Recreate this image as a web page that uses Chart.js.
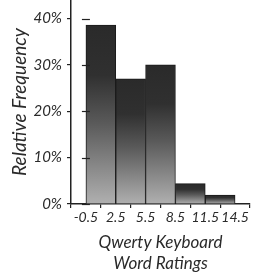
<!DOCTYPE html>
<html>
<head>
<meta charset="utf-8">
<script src="https://cdn.jsdelivr.net/npm/chart.js@4"></script>
<style>
  html, body { margin: 0; padding: 0; background: #fff; }
</style>
</head>
<body>
<canvas id="chart" width="263" height="274"></canvas>
<script>
// histogram bins (edges) and relative frequencies in %
const binEdges = [-0.5, 2.5, 5.5, 8.5, 11.5, 14.5];
const frequencies = [38.6, 27, 30, 4.4, 1.9];
const xTickLabels = ['-0.5', '2.5', '5.5', '8.5', '11.5', '14.5'];
const yTicks = [0, 10, 20, 30, 40];

const points = frequencies.map((f, i) => ({ x: (binEdges[i] + binEdges[i + 1]) / 2, y: f }));

const FONT = "Lato, 'DejaVu Sans', sans-serif";
const INK = '#222';
const TEXT = '#2a2a2a';

function barGradient(context) {
  const chart = context.chart;
  if (!chart.chartArea || !context.raw) return '#555';
  const y = chart.scales.y;
  const top = y.getPixelForValue(context.raw.y);
  const bottom = y.getPixelForValue(0);
  const g = chart.ctx.createLinearGradient(0, top, 0, bottom);
  g.addColorStop(0, '#2a2a2a');
  g.addColorStop(0.28, '#303030');
  g.addColorStop(0.55, '#5a5a5a');
  g.addColorStop(1, '#b0b0b0');
  return g;
}

// y tick marks cross the axis line
const crossTicks = {
  id: 'crossTicks',
  afterDatasetsDraw(chart) {
    const { ctx, scales: { x, y } } = chart;
    const x0 = x.getPixelForValue(binEdges[0]);
    ctx.save();
    ctx.strokeStyle = INK;
    ctx.lineWidth = 1.2;
    yTicks.forEach(v => {
      const py = Math.round(y.getPixelForValue(v)) + 0.5;
      ctx.beginPath();
      ctx.moveTo(x0 - 4, py);
      ctx.lineTo(x0 + 4, py);
      ctx.stroke();
    });
    ctx.restore();
  }
};

new Chart(document.getElementById('chart'), {
  type: 'bar',
  data: {
    datasets: [{
      data: points,
      backgroundColor: barGradient,
      borderColor: '#1a1a1a',
      borderWidth: 1,
      barPercentage: 1,
      categoryPercentage: 1,
      grouped: false
    }]
  },
  options: {
    responsive: false,
    animation: false,
    layout: { padding: 0 },
    plugins: {
      legend: { display: false },
      tooltip: { enabled: false }
    },
    scales: {
      x: {
        type: 'linear',
        min: binEdges[0],
        max: binEdges[binEdges.length - 1],
        afterBuildTicks: s => { s.ticks = binEdges.map(v => ({ value: v })); },
        afterFit: s => { s.height = 70; s.paddingLeft = 0; s.paddingRight = 13; },
        ticks: {
          color: TEXT,
          font: { family: FONT, size: 14, style: 'italic' },
          padding: 1,
          maxRotation: 0,
          autoSkip: false,
          callback: (v, i) => xTickLabels[i]
        },
        grid: { drawOnChartArea: false, drawTicks: true, tickLength: 4, color: INK, lineWidth: 1.2 },
        border: { display: true, color: INK, width: 1.5 },
        title: {
          display: true,
          text: ['Qwerty Keyboard', 'Word Ratings'],
          color: TEXT,
          font: { family: FONT, size: 17, style: 'italic', lineHeight: 1.25 },
          padding: { top: 0, bottom: 0 }
        }
      },
      y: {
        min: 0,
        max: 44,
        afterBuildTicks: s => { s.ticks = yTicks.map(v => ({ value: v })); },
        afterFit: s => { s.width = 71; s.paddingTop = 0; s.paddingBottom = 0; },
        ticks: {
          color: TEXT,
          font: { family: FONT, size: 15, style: 'italic' },
          padding: 5,
          callback: v => v + '%'
        },
        grid: { drawOnChartArea: false, drawTicks: true, tickLength: 4, color: INK, lineWidth: 1.2 },
        border: { display: true, color: INK, width: 1.5 },
        title: {
          display: true,
          text: 'Relative Frequency',
          color: TEXT,
          font: { family: FONT, size: 19, style: 'italic' },
          padding: { top: 8, bottom: 0 }
        }
      }
    }
  },
  plugins: [crossTicks]
});
</script>
</body>
</html>
